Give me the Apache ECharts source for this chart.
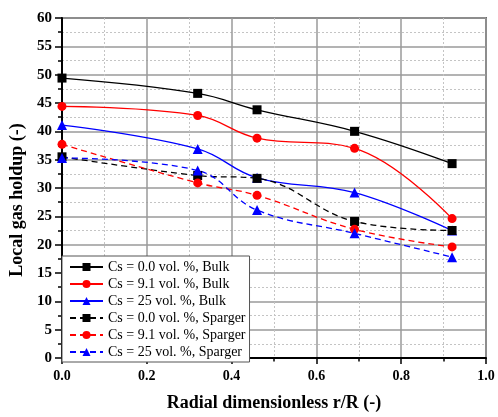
<!DOCTYPE html>
<html>
<head>
<meta charset="utf-8">
<script src="https://cdn.jsdelivr.net/npm/echarts@6/dist/echarts.min.js"></script>
<style>
  html, body { margin: 0; padding: 0; background: #fff; }
  #chart { width: 498px; height: 417px; }
</style>
</head>
<body>
<div id="chart"></div>
<script>
// Radial positions r/R
const radialPos = [0, 0.32, 0.46, 0.69, 0.92];

// Local gas holdup (%) — bulk region
const bulkCs0 = [49.4, 46.7, 43.8, 40.0, 34.3];
const bulkCs91 = [44.4, 42.8, 38.8, 37.0, 24.6];
const bulkCs25 = [41.1, 36.9, 31.8, 29.2, 22.5];

// Local gas holdup (%) — sparger region
const spargerCs0 = [35.5, 32.2, 31.7, 24.1, 22.5];
const spargerCs91 = [37.7, 30.9, 28.7, 22.7, 19.6];
const spargerCs25 = [35.3, 33.1, 26.1, 22.0, 17.8];

const seriesNames = [
  'Cs = 0.0 vol. %, Bulk',
  'Cs = 9.1 vol. %, Bulk',
  'Cs = 25 vol. %, Bulk',
  'Cs = 0.0 vol. %, Sparger',
  'Cs = 9.1 vol. %, Sparger',
  'Cs = 25 vol. %, Sparger'
];

const serif = '"Liberation Serif", "Times New Roman", serif';

function pairs(ys) {
  return radialPos.map((x, i) => [x, ys[i]]);
}

function makeSeries(name, ys, color, symbol, size, dashed) {
  return {
    name: name,
    type: 'line',
    data: pairs(ys),
    smooth: 0.4,
    symbol: symbol,
    symbolSize: size,
    showSymbol: true,
    itemStyle: { color: color },
    lineStyle: { color: color, width: 1.3, type: dashed ? [6, 4] : 'solid' },
    emphasis: { disabled: true },
    animation: false
  };
}

const chart = echarts.init(document.getElementById('chart'), null, { renderer: 'canvas' });

chart.setOption({
  backgroundColor: '#fff',
  animation: false,
  grid: {
    left: 62, right: 12, top: 18, bottom: 55,
    show: true, borderColor: '#6a6a6a', borderWidth: 2, backgroundColor: 'transparent'
  },
  legend: {
    orient: 'vertical',
    left: 62, bottom: 55,
    data: seriesNames,
    backgroundColor: '#fff',
    borderColor: '#555',
    borderWidth: 1,
    padding: [4, 4, 3, 7],
    itemWidth: 33,
    itemHeight: 10,
    itemGap: 3,
    textStyle: { fontFamily: serif, fontSize: 14, color: '#000', lineHeight: 14 }
  },
  xAxis: {
    type: 'value',
    min: 0, max: 1, interval: 0.2,
    name: 'Radial dimensionless r/R (-)',
    nameLocation: 'middle',
    nameGap: 36,
    nameTextStyle: { fontFamily: serif, fontSize: 18, fontWeight: 'bold', color: '#000' },
    axisLine: { show: true, onZero: false, lineStyle: { color: '#000', width: 2 } },
    axisTick: { show: true, inside: false, length: 6, lineStyle: { color: '#000', width: 1.5 } },
    minorTick: { show: true, splitNumber: 2, length: 3.5, lineStyle: { color: '#000', width: 1.5 } },
    axisLabel: {
      margin: 11,
      fontFamily: serif, fontSize: 14, fontWeight: 'bold', color: '#000',
      formatter: v => v.toFixed(1)
    },
    splitLine: { show: true, lineStyle: { color: '#9a9a9a', width: 1.5 } },
    minorSplitLine: { show: true, lineStyle: { color: '#c4c4c4', width: 1, type: [2, 2] } }
  },
  yAxis: {
    type: 'value',
    min: 0, max: 60, interval: 5,
    name: 'Local gas holdup (-)',
    nameLocation: 'middle',
    nameGap: 33,
    nameTextStyle: {
      fontFamily: serif, fontSize: 18, fontWeight: 'bold', color: '#000',
      padding: [0, 24, 0, 0]
    },
    axisLine: { show: true, onZero: false, lineStyle: { color: '#000', width: 2 } },
    axisTick: { show: true, inside: false, length: 7, lineStyle: { color: '#000', width: 1.5 } },
    minorTick: { show: true, splitNumber: 2, length: 4, lineStyle: { color: '#000', width: 1.5 } },
    axisLabel: {
      margin: 10,
      fontFamily: serif, fontSize: 15, fontWeight: 'bold', color: '#000'
    },
    splitLine: { show: true, lineStyle: { color: '#9a9a9a', width: 1.5 } },
    minorSplitLine: { show: true, lineStyle: { color: '#c4c4c4', width: 1, type: [2, 2] } }
  },
  series: [
    makeSeries(seriesNames[0], bulkCs0, '#000000', 'rect', 9, false),
    makeSeries(seriesNames[1], bulkCs91, '#ff0000', 'circle', 9, false),
    makeSeries(seriesNames[2], bulkCs25, '#0000ff', 'triangle', 10, false),
    makeSeries(seriesNames[3], spargerCs0, '#000000', 'rect', 9, true),
    makeSeries(seriesNames[4], spargerCs91, '#ff0000', 'circle', 9, true),
    makeSeries(seriesNames[5], spargerCs25, '#0000ff', 'triangle', 10, true)
  ]
});
</script>
</body>
</html>
